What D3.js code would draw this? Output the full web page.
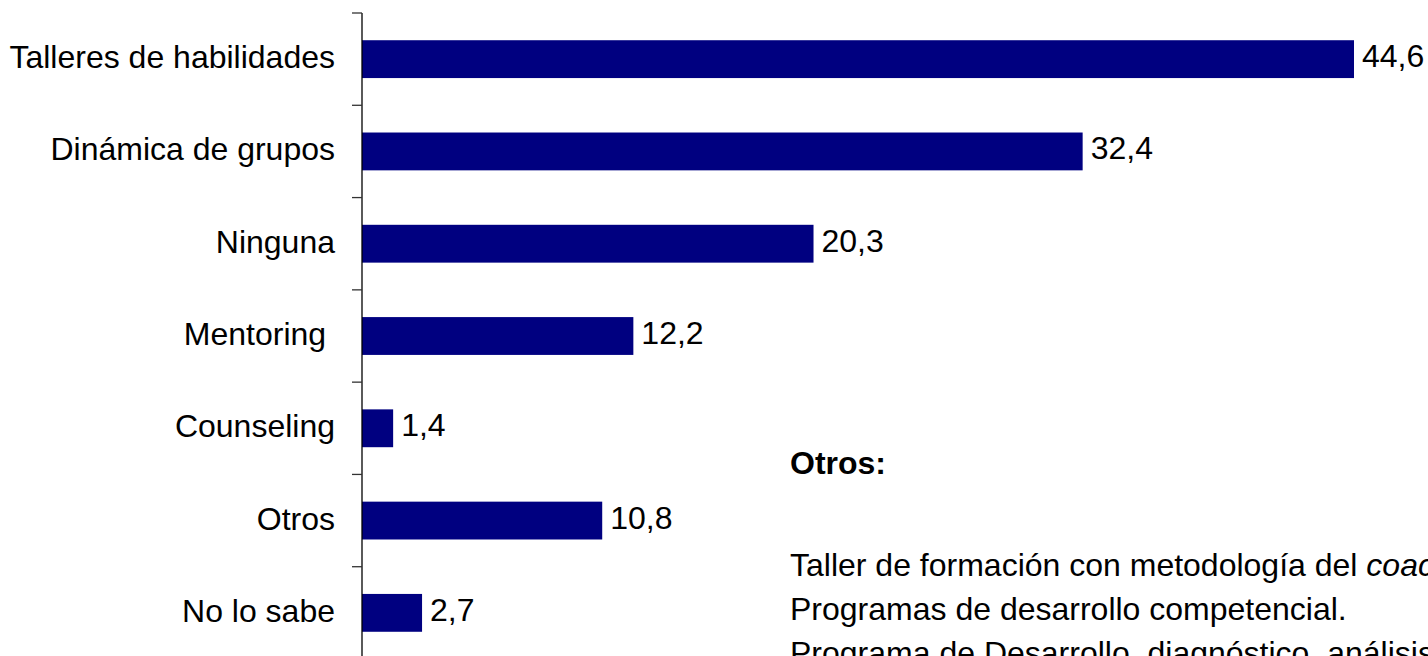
<!DOCTYPE html>
<html>
<head>
<meta charset="utf-8">
<script src="https://cdn.jsdelivr.net/npm/d3@7"></script>
<style>
  html, body { margin: 0; padding: 0; background: #fff; overflow: hidden; }
  text { font-family: "Liberation Sans", Arial, sans-serif; }
</style>
</head>
<body>
<svg id="chart"></svg>
<script>
// data
const categories = ["Talleres de habilidades", "Dinámica de grupos", "Ninguna", "Mentoring ", "Counseling", "Otros", "No lo sabe"];
const values = [44.6, 32.4, 20.3, 12.2, 1.4, 10.8, 2.7];
const valueLabels = ["44,6", "32,4", "20,3", "12,2", "1,4", "10,8", "2,7"];
const notesTitle = "Otros:";
const notes = [
  [{t: "Taller de formación con metodología del "}, {t: "coaching.", i: true}],
  [{t: "Programas de desarrollo competencial."}],
  [{t: "Programa de Desarrollo, diagnóstico, análisis y evaluación de competencias."}]
];

const width = 1428, height = 656;
const fontSize = 32;

const svg = d3.select("#chart")
    .attr("width", width)
    .attr("height", height);

// scales
const x = d3.scaleLinear()
    .domain([0, d3.max(values)])
    .range([362, 1354]);

const y = d3.scaleBand()
    .domain(categories)
    .range([13, 659])
    .paddingInner(0.59)
    .paddingOuter(0.295);

const data = categories.map((c, i) => ({cat: c, value: values[i], label: valueLabels[i]}));

// bars
svg.selectAll(".bar")
    .data(data)
    .join("rect")
    .attr("class", "bar")
    .attr("x", x(0))
    .attr("y", d => y(d.cat))
    .attr("width", d => x(d.value) - x(0))
    .attr("height", y.bandwidth())
    .attr("fill", "#000080");

// axis line + ticks between categories
const y0 = y.range()[0], y1 = y.range()[1];
svg.append("line")
    .attr("x1", x(0)).attr("x2", x(0))
    .attr("y1", y0).attr("y2", y1)
    .attr("stroke", "#000")
    .attr("stroke-width", 1.3);

svg.selectAll(".tick")
    .data(d3.range(categories.length + 1))
    .join("line")
    .attr("class", "tick")
    .attr("x1", x(0) - 10).attr("x2", x(0))
    .attr("y1", i => y0 + i * y.step())
    .attr("y2", i => y0 + i * y.step())
    .attr("stroke", "#333")
    .attr("stroke-width", 1.3);

// category labels
svg.selectAll(".cat")
    .data(data)
    .join("text")
    .attr("class", "cat")
    .attr("x", x(0) - 27)
    .attr("y", d => y(d.cat) + y.bandwidth() / 2 + 9)
    .attr("text-anchor", "end")
    .style("white-space", "pre")
    .attr("font-size", fontSize)
    .attr("fill", "#000")
    .text(d => d.cat);

// value labels
svg.selectAll(".val")
    .data(data)
    .join("text")
    .attr("class", "val")
    .attr("x", d => x(d.value) + 8)
    .attr("y", d => y(d.cat) + y.bandwidth() / 2 + 8)
    .attr("font-size", fontSize)
    .attr("fill", "#000")
    .text(d => d.label);

// notes box
svg.append("text")
    .attr("x", 790)
    .attr("y", 474)
    .attr("font-size", fontSize)
    .attr("font-weight", "bold")
    .text(notesTitle);

const noteY = [576, 620, 664];
notes.forEach((parts, i) => {
    const t = svg.append("text")
        .attr("x", 790)
        .attr("y", noteY[i])
        .attr("font-size", fontSize);
    parts.forEach(p => {
        t.append("tspan")
            .attr("font-style", p.i ? "italic" : "normal")
            .text(p.t);
    });
});
</script>
</body>
</html>
